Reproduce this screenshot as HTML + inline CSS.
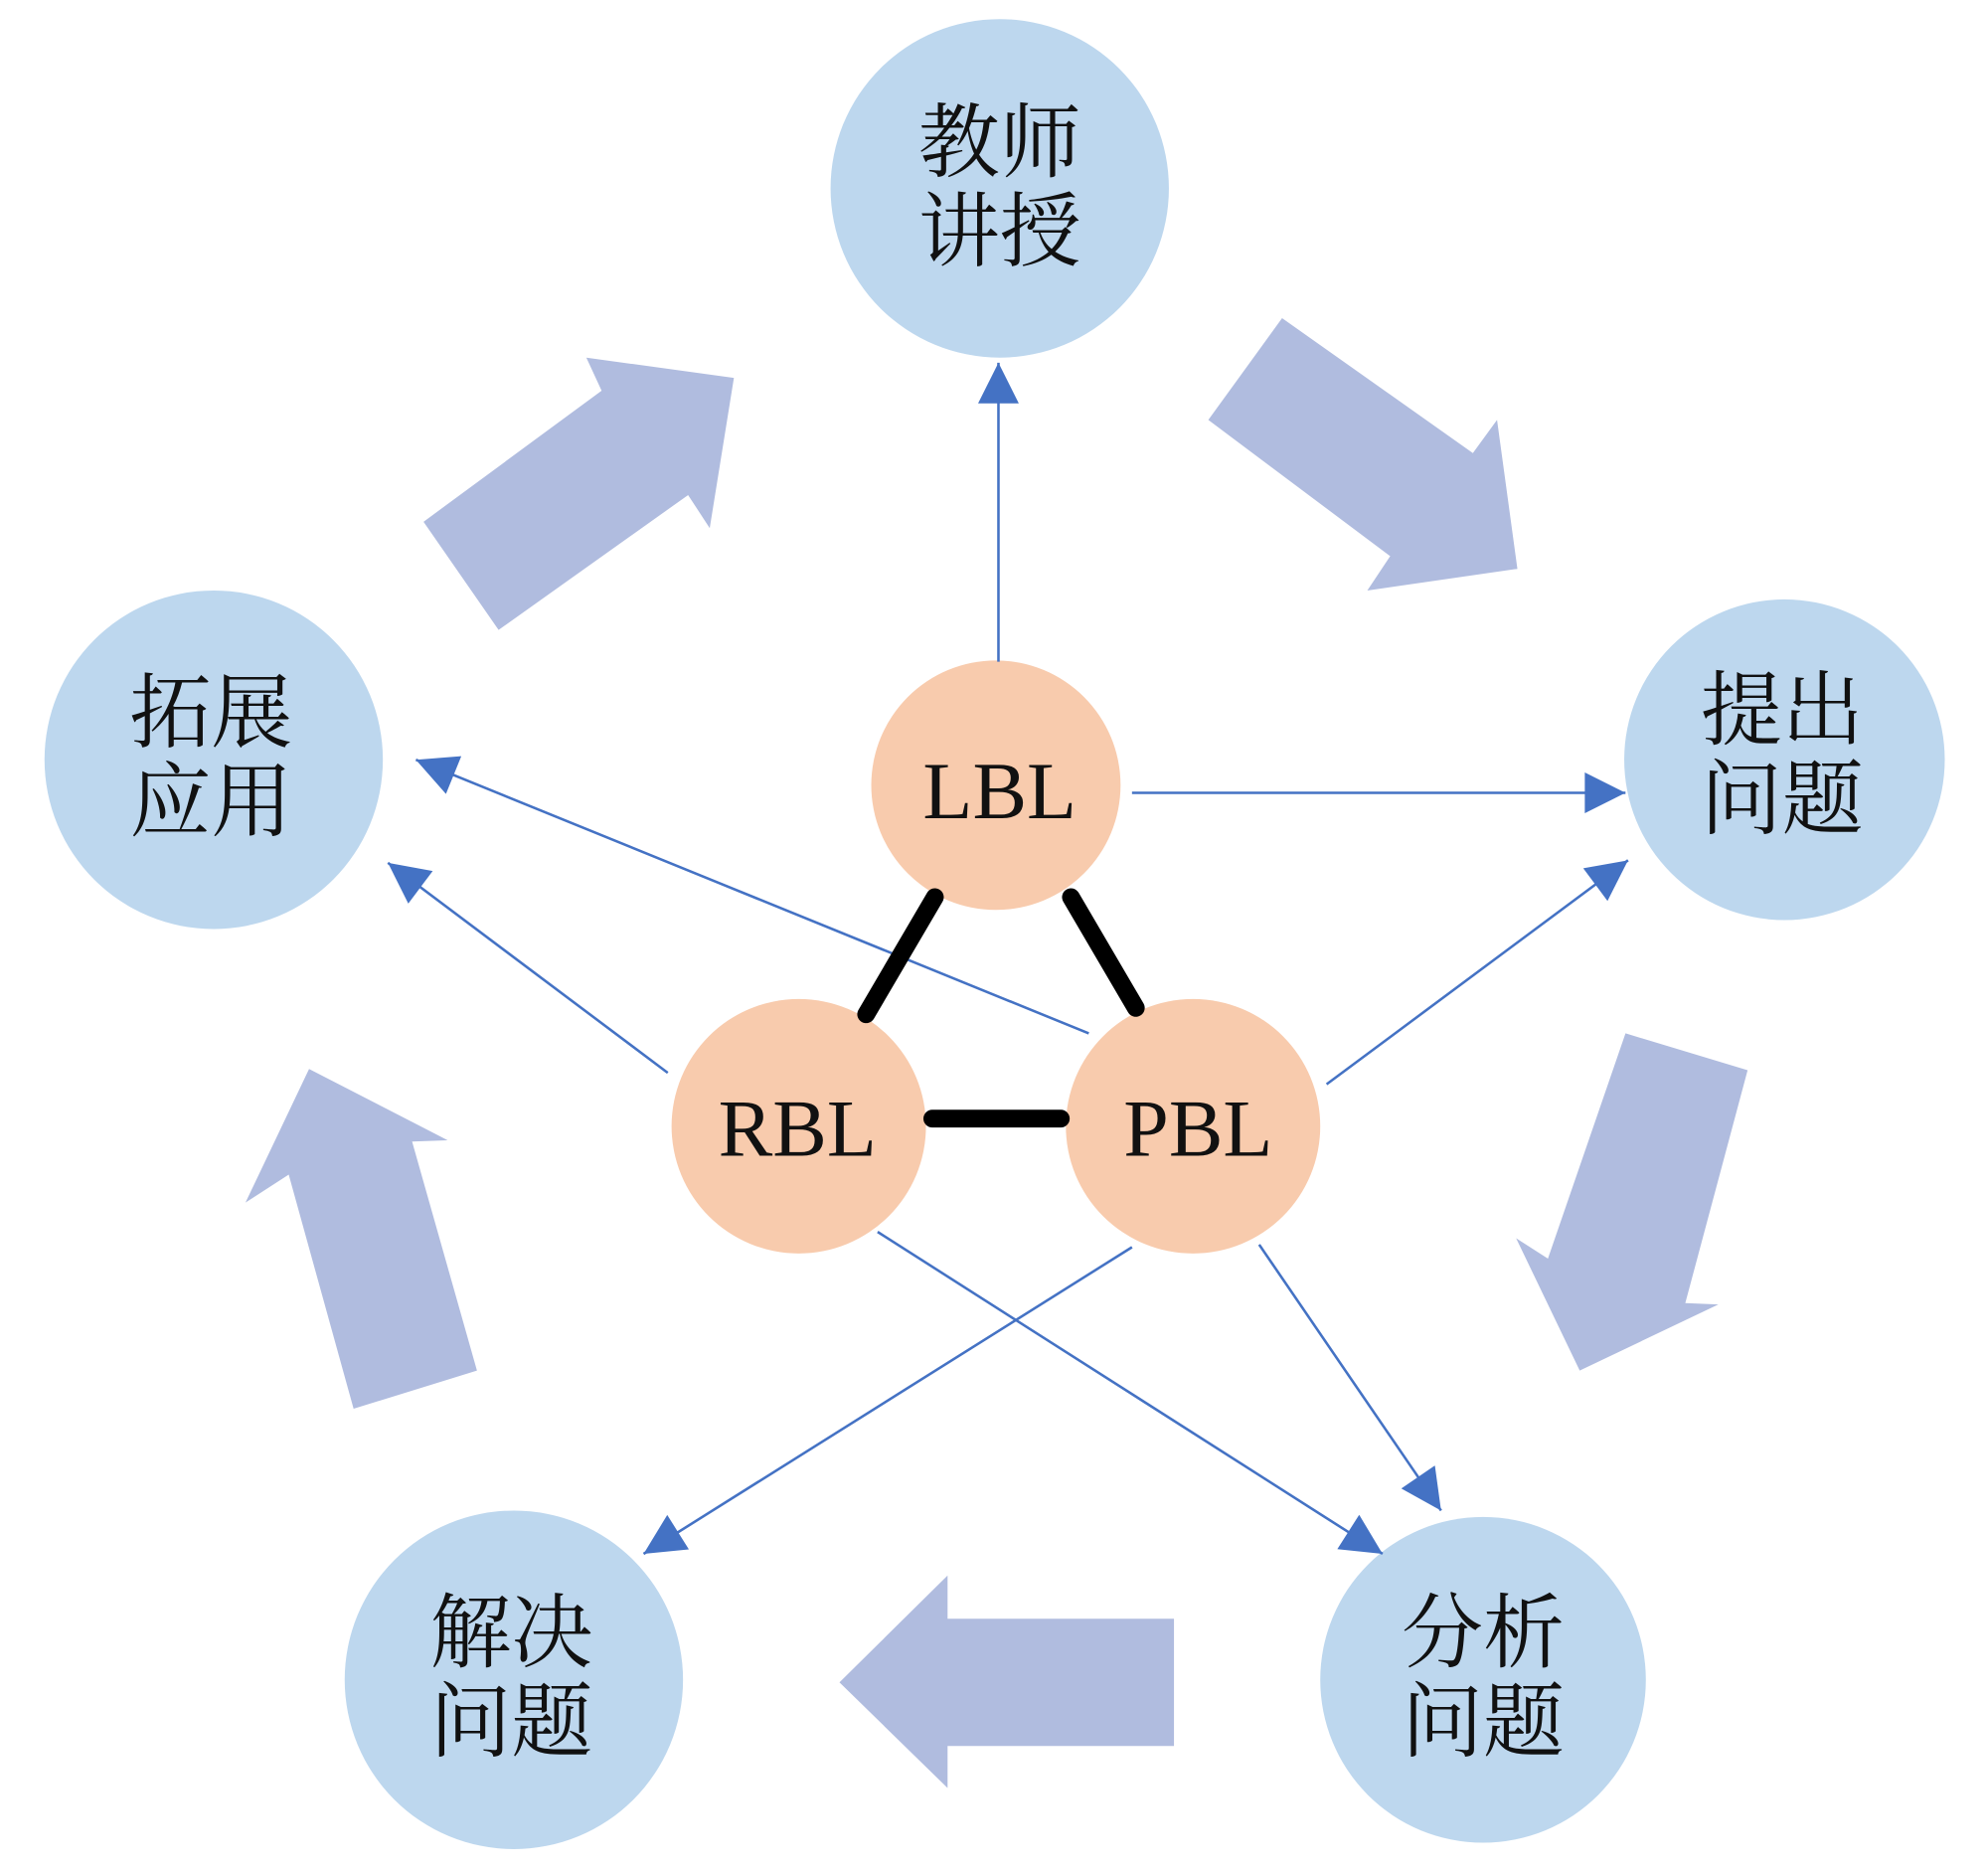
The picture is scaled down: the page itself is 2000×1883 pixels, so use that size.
<!DOCTYPE html>
<html><head><meta charset="utf-8"><style>html,body{margin:0;padding:0;background:#fff}svg{display:block}</style></head>
<body>
<svg width="2000" height="1883" viewBox="0 0 1563 1471" preserveAspectRatio="none" xmlns="http://www.w3.org/2000/svg">
<defs><marker id="a" markerWidth="10" markerHeight="10" refX="9" refY="5" orient="auto" markerUnits="userSpaceOnUse" viewBox="0 0 10 10"><path d="M0,0 L10,5 L0,10 z" fill="#4472c4"/></marker>
<marker id="m" viewBox="0 0 10 10" refX="10" refY="5" markerWidth="36" markerHeight="32" orient="auto" markerUnits="userSpaceOnUse"><path d="M0,0 L10,5 L0,10 z" fill="#4472c4"/></marker></defs>
<g fill="#b0bcdf">
<polygon points="333,410 473,307 461,281 577,297 558,415 541,389 392,495"/>
<polygon points="950,330 1008,250 1158,356 1177,330 1193,447 1075,464 1093,437"/>
<polygon points="1278,812 1374,841 1325,1024 1351,1025 1242,1077 1192,973 1217,989"/>
<polygon points="923,1272 923,1372 745,1372 745,1405 660,1322 745,1238 745,1272"/>
<polygon points="278,1107 375,1077 324,897 352,896 243,840 193,945 227,923"/>
</g>
<g fill="#bdd7ee">
<circle cx="786" cy="148" r="133"/><circle cx="1403" cy="597" r="126"/><circle cx="168" cy="597" r="133"/><circle cx="404" cy="1320" r="133"/><circle cx="1166" cy="1320" r="128"/>
</g>
<g fill="#f8cbad"><circle cx="783" cy="617" r="98"/><circle cx="628" cy="885" r="100"/><circle cx="938" cy="885" r="100"/></g>
<g stroke="#4472c4" stroke-width="2" marker-end="url(#m)">
<line x1="785" y1="520" x2="785" y2="285"/>
<line x1="890" y1="623" x2="1278" y2="623"/>
<line x1="856" y1="812" x2="327" y2="597"/>
<line x1="525" y1="843" x2="305" y2="678"/>
<line x1="1043" y1="852" x2="1280" y2="676"/>
<line x1="890" y1="980" x2="506" y2="1221"/>
<line x1="690" y1="968" x2="1087" y2="1221"/>
<line x1="990" y1="978" x2="1133" y2="1187"/>
</g>
<g stroke="#000" stroke-width="14" stroke-linecap="round">
<line x1="735" y1="705" x2="681" y2="797"/><line x1="842" y1="705" x2="893" y2="792"/><line x1="733" y1="879" x2="834" y2="879"/>
</g>
<g font-family="'Liberation Serif','Noto Serif CJK SC',serif" font-size="64" text-anchor="middle" fill="#111">
<text x="786" y="134">教师</text><text x="786" y="204">讲授</text>
<text x="1401" y="580">提出</text><text x="1401" y="650">问题</text>
<text x="166" y="582">拓展</text><text x="166" y="652">应用</text>
<text x="402" y="1305">解决</text><text x="402" y="1375">问题</text>
<text x="1166" y="1305">分析</text><text x="1166" y="1375">问题</text>
<text x="786" y="643">LBL</text><text x="627" y="908">RBL</text><text x="942" y="908">PBL</text>
</g>
</svg>
</body></html>
